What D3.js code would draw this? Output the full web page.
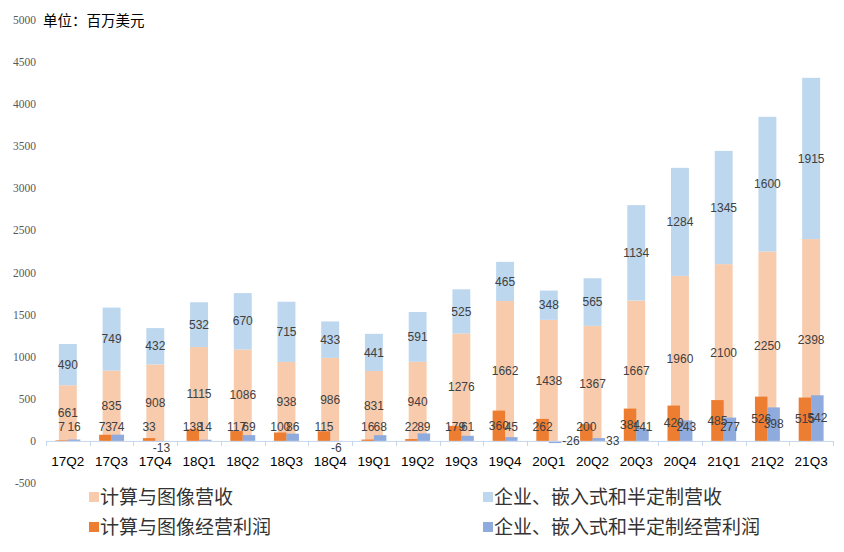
<!DOCTYPE html>
<html>
<head>
<meta charset="utf-8">
<script src="https://cdn.jsdelivr.net/npm/d3@7"></script>
<style>
  body { margin: 0; background: #fff; }
  svg { display: block; }
</style>
</head>
<body>
<svg id="chart" width="844" height="552"></svg>
<script>
// quarters + values (millions USD)
const quarters = ['17Q2','17Q3','17Q4','18Q1','18Q2','18Q3','18Q4','19Q1','19Q2','19Q3','19Q4','20Q1','20Q2','20Q3','20Q4','21Q1','21Q2','21Q3']
const computeRev = [661, 835, 908, 1115, 1086, 938, 986, 831, 940, 1276, 1662, 1438, 1367, 1667, 1960, 2100, 2250, 2398]
const entRev = [490, 749, 432, 532, 670, 715, 433, 441, 591, 525, 465, 348, 565, 1134, 1284, 1345, 1600, 1915]
const computeProfit = [7, 73, 33, 138, 117, 100, 115, 16, 22, 179, 360, 262, 200, 384, 420, 485, 526, 515]
const entProfit = [16, 74, -13, 14, 69, 86, -6, 68, 89, 61, 45, -26, 33, 141, 243, 277, 398, 542]
const yTicks = [-500, 0, 500, 1000, 1500, 2000, 2500, 3000, 3500, 4000, 4500, 5000]

const seriesNames = ['计算与图像营收', '企业、嵌入式和半定制营收', '计算与图像经营利润', '企业、嵌入式和半定制经营利润']
const colors = ['#F8CBAD', '#BDD7EE', '#ED7D31', '#8FAADC']

// a few labels that sit off the bar in the original
const entLabelPlace = { '17Q4': 'below', '18Q4': 'below', '20Q1': 'right', '20Q2': 'right' }

const svg = d3.select('#chart')

const x = d3.scaleBand().domain(quarters).range([46, 833]).padding(0)
const y = d3.scaleLinear().domain([-500, 5000]).range([483, 20])
const bw = x.bandwidth()
const stackW = bw * 0.41
const clusterW = bw * 0.57

const labelFont = '"Liberation Sans", Arial, sans-serif'
const labelColor = '#404040'

// y tick labels (no axis line)
svg.append('g').selectAll('text').data(yTicks).enter().append('text')
  .attr('x', 36)
  .attr('y', d => y(d))
  .attr('dy', '0.35em')
  .attr('text-anchor', 'end')
  .style('font-family', '"Liberation Serif", "Times New Roman", serif')
  .style('font-size', '11.5px')
  .style('fill', '#595959')
  .text(d => d)

svg.append('text')
  .attr('x', 43).attr('y', 26)
  .style('font-family', '"Noto Sans CJK SC", sans-serif')
  .style('font-size', '14.5px')
  .style('fill', '#000')
  .text('单位：百万美元')

// stacked revenue columns
const stackData = quarters.map((q, i) => ({ q, a: computeRev[i], b: entRev[i] }))
const revG = svg.append('g')
revG.selectAll('.rev1').data(stackData).enter().append('rect')
  .attr('x', d => x(d.q) + (bw - stackW) / 2)
  .attr('width', stackW)
  .attr('y', d => y(d.a))
  .attr('height', d => y(0) - y(d.a))
  .attr('fill', colors[0])
revG.selectAll('.rev2').data(stackData).enter().append('rect')
  .attr('x', d => x(d.q) + (bw - stackW) / 2)
  .attr('width', stackW)
  .attr('y', d => y(d.a + d.b))
  .attr('height', d => y(d.a) - y(d.a + d.b))
  .attr('fill', colors[1])

// profit columns, clustered
const inner = d3.scaleBand().domain([0, 1]).range([0, clusterW])
const profitData = []
quarters.forEach((q, i) => {
  profitData.push({ q, k: 0, v: computeProfit[i] })
  profitData.push({ q, k: 1, v: entProfit[i] })
})
svg.append('g').selectAll('rect').data(profitData).enter().append('rect')
  .attr('x', d => x(d.q) + (bw - clusterW) / 2 + inner(d.k))
  .attr('width', inner.bandwidth())
  .attr('y', d => y(Math.max(0, d.v)))
  .attr('height', d => Math.abs(y(d.v) - y(0)))
  .attr('fill', d => colors[2 + d.k])

// category axis
const axG = svg.append('g')
axG.append('line')
  .attr('x1', x.range()[0]).attr('x2', x.range()[1])
  .attr('y1', y(0) + 0.5).attr('y2', y(0) + 0.5)
  .attr('stroke', '#C5D6EC').attr('stroke-width', 1)
const bounds = quarters.map(q => x(q)).concat([x.range()[1]])
axG.selectAll('.tk').data(bounds).enter().append('line')
  .attr('x1', d => Math.round(d) + 0.5).attr('x2', d => Math.round(d) + 0.5)
  .attr('y1', y(0)).attr('y2', y(0) + 5)
  .attr('stroke', '#C5D6EC')
axG.selectAll('.cat').data(quarters).enter().append('text')
  .attr('x', d => x(d) + bw / 2)
  .attr('y', 466)
  .attr('text-anchor', 'middle')
  .style('font-family', labelFont)
  .style('font-size', '13.5px')
  .style('fill', '#000')
  .text(d => d)

// revenue labels, centred in each segment
const lab = svg.append('g')
  .style('font-family', labelFont)
  .style('font-size', '12px')
  .style('fill', labelColor)
lab.selectAll('.l1').data(stackData).enter().append('text')
  .attr('x', d => x(d.q) + bw / 2)
  .attr('y', d => (y(0) + y(d.a)) / 2)
  .attr('dy', '0.35em')
  .attr('text-anchor', 'middle')
  .text(d => d.a)
lab.selectAll('.l2').data(stackData).enter().append('text')
  .attr('x', d => x(d.q) + bw / 2)
  .attr('y', d => (y(d.a) + y(d.a + d.b)) / 2)
  .attr('dy', '0.35em')
  .attr('text-anchor', 'middle')
  .text(d => d.b)

// profit labels
lab.selectAll('.l3').data(profitData).enter().append('text')
  .each(function (d) {
    const cx = x(d.q) + (bw - clusterW) / 2 + inner(d.k) + inner.bandwidth() / 2
    let px = cx, py = Math.min((y(0) + y(d.v)) / 2, y(0) - 14), anchor = 'middle'
    const place = d.k === 1 ? entLabelPlace[d.q] : null
    if (place === 'below') { py = y(0) + 7 }
    if (place === 'right') { px = cx + inner.bandwidth() / 2 + 1; py = y(0); anchor = 'start' }
    d3.select(this)
      .attr('x', px).attr('y', py)
      .attr('dy', '0.35em')
      .attr('text-anchor', anchor)
      .text(d.v)
  })

// legend
const legendItems = [
  { name: seriesNames[0], c: colors[0], lx: 89, ly: 497 },
  { name: seriesNames[1], c: colors[1], lx: 483, ly: 497 },
  { name: seriesNames[2], c: colors[2], lx: 89, ly: 527 },
  { name: seriesNames[3], c: colors[3], lx: 483, ly: 527 }
]
const lg = svg.append('g').selectAll('g').data(legendItems).enter().append('g')
  .attr('transform', d => `translate(${d.lx},${d.ly})`)
lg.append('rect').attr('x', 0).attr('y', -5).attr('width', 10).attr('height', 10).attr('fill', d => d.c)
lg.append('text')
  .attr('x', 11).attr('y', 0).attr('dy', '0.35em')
  .style('font-family', '"Noto Sans CJK SC", sans-serif')
  .style('font-size', '19px')
  .style('fill', '#333')
  .text(d => d.name)
</script>
</body>
</html>
